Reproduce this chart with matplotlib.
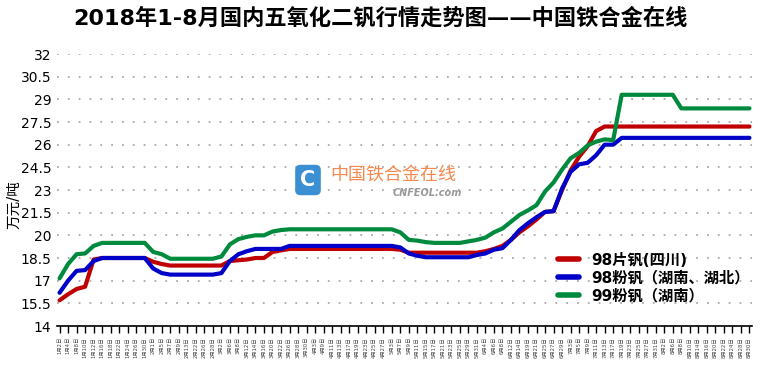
import matplotlib
matplotlib.use('Agg')
import numpy as np
import matplotlib.pyplot as plt

plt.rcParams['font.family'] = ['DejaVu Sans', 'Noto Sans CJK SC']

# 日期标签(每隔一个交易日)
dates = ['1月2日', '1月4日', '1月8日', '1月10日', '1月12日', '1月16日', '1月18日',
         '1月22日', '1月24日', '1月26日', '1月30日',
         '2月1日', '2月5日', '2月7日', '2月9日', '2月13日', '2月22日', '2月26日', '2月28日',
         '3月2日', '3月6日', '3月8日', '3月12日', '3月14日', '3月16日', '3月20日',
         '3月22日', '3月26日', '3月28日', '3月30日',
         '4月3日', '4月9日', '4月11日', '4月13日', '4月17日', '4月19日', '4月23日',
         '4月25日', '4月27日',
         '5月3日', '5月7日', '5月9日', '5月11日', '5月15日', '5月17日', '5月21日',
         '5月23日', '5月25日', '5月29日', '5月31日',
         '6月4日', '6月6日', '6月8日', '6月12日', '6月14日', '6月19日', '6月21日',
         '6月25日', '6月27日', '6月29日',
         '7月3日', '7月5日', '7月9日', '7月11日', '7月13日', '7月17日', '7月19日',
         '7月23日', '7月25日', '7月27日', '7月31日',
         '8月2日', '8月6日', '8月8日', '8月10日', '8月14日', '8月16日', '8月20日',
         '8月22日', '8月24日', '8月28日', '8月30日']

# 98片钒(四川)
red = [15.7, 16.1, 16.45, 16.6, 18.4, 18.5, 18.5, 18.5, 18.5, 18.5, 18.5,
       18.25, 18.1, 18.0, 18.0, 18.0, 18.0, 18.0, 18.0, 18.0,
       18.3, 18.35, 18.4, 18.5, 18.5, 18.9, 19.0, 19.1,
       19.1, 19.1, 19.1, 19.1, 19.1, 19.1, 19.1, 19.1, 19.1, 19.1, 19.1, 19.1,
       19.05, 18.85, 18.85, 18.85, 18.85, 18.85, 18.85, 18.85, 18.85, 18.85,
       18.95, 19.1, 19.3, 19.7, 20.2, 20.6, 21.05, 21.55, 21.6, 23.0,
       24.3, 25.2, 25.9, 26.9, 27.2,
       27.2, 27.2, 27.2, 27.2, 27.2, 27.2, 27.2, 27.2, 27.2, 27.2, 27.2,
       27.2, 27.2, 27.2, 27.2, 27.2, 27.2]

# 98粉钒(湖南、湖北)
blue = [16.2, 17.0, 17.65, 17.7, 18.3, 18.5, 18.5, 18.5, 18.5, 18.5, 18.5,
        17.8, 17.5, 17.4, 17.4, 17.4, 17.4, 17.4, 17.4, 17.5,
        18.3, 18.75, 18.95, 19.1, 19.1, 19.1, 19.1, 19.3,
        19.3, 19.3, 19.3, 19.3, 19.3, 19.3, 19.3, 19.3, 19.3, 19.3, 19.3, 19.3,
        19.2, 18.8, 18.65, 18.55, 18.55, 18.55, 18.55, 18.55, 18.55, 18.7,
        18.8, 19.05, 19.15, 19.7, 20.35, 20.8, 21.2, 21.55, 21.6, 23.1,
        24.2, 24.7, 24.8, 25.3, 26.0, 26.0, 26.45,
        26.45, 26.45, 26.45, 26.45, 26.45, 26.45, 26.45, 26.45, 26.45, 26.45,
        26.45, 26.45, 26.45, 26.45, 26.45]

# 99粉钒(湖南)
green = [17.15, 18.1, 18.75, 18.8, 19.3, 19.5, 19.5, 19.5, 19.5, 19.5, 19.5,
         18.9, 18.75, 18.45, 18.45, 18.45, 18.45, 18.45, 18.45, 18.6,
         19.4, 19.75, 19.9, 20.0, 20.0, 20.25, 20.35, 20.4,
         20.4, 20.4, 20.4, 20.4, 20.4, 20.4, 20.4, 20.4, 20.4, 20.4, 20.4, 20.4,
         20.2, 19.7, 19.65, 19.55, 19.5, 19.5, 19.5, 19.5, 19.6, 19.7,
         19.85, 20.2, 20.45, 20.9, 21.35, 21.65, 22.0, 22.9, 23.5, 24.35,
         25.1, 25.45, 25.95, 26.2, 26.35, 26.3, 29.3,
         29.3, 29.3, 29.3, 29.3, 29.3, 29.3, 28.4,
         28.4, 28.4, 28.4, 28.4, 28.4, 28.4, 28.4, 28.4]

series = ['98片钒(四川)', '98粉钒（湖南、湖北）', '99粉钒（湖南）']
colors = ['#c00000', '#0000c8', '#008a3e']
yticks = [14, 15.5, 17, 18.5, 20, 21.5, 23, 24.5, 26, 27.5, 29, 30.5, 32]

fig = plt.figure(figsize=(7.6, 3.66), dpi=100)
ax = fig.add_axes([57 / 760, 1 - 326 / 366, 695 / 760, 272 / 366])

x = np.arange(len(dates))
for vals, col, lab in zip([red, blue, green], colors, series):
    ax.plot(x, vals, color=col, lw=3, label=lab, solid_capstyle='round',
            solid_joinstyle='round')

ax.set_ylim(14, 32)
ax.set_xlim(-0.3, len(dates) - 0.7)
ax.set_yticks(yticks)
ax.set_yticklabels([f'{v:g}' for v in yticks], fontsize=10)
ax.tick_params(axis='y', length=0, pad=4)
ax.set_xticks(x)
ax.set_xticklabels(dates, rotation=90, fontsize=3.8, color='#444444')
ax.tick_params(axis='x', length=5, width=1, direction='out', pad=3)
ax.yaxis.grid(True, color='#aaaaaa', linestyle=(0, (1, 5)), lw=1.3)
ax.set_axisbelow(True)
for s in ['top', 'right', 'left']:
    ax.spines[s].set_visible(False)
ax.spines['bottom'].set_linewidth(1.2)

# 纵轴单位
fig.text(14 / 760, 1 - 205 / 366, '万元/吨', rotation=90, ha='center',
         va='center', fontsize=10.5)

fig.text(0.5, 1 - 18 / 366, '2018年1-8月国内五氧化二钒行情走势图——中国铁合金在线',
         ha='center', va='center', fontsize=16, fontweight='bold')

# 水印
fig.text(308 / 760, 1 - 180 / 366, 'C', ha='center', va='center', fontsize=15,
         fontweight='bold', color='white',
         bbox=dict(boxstyle='round,pad=0.25', fc='#3b8fd3', ec='none'))
fig.text(330 / 760, 1 - 175 / 366, '中国铁合金在线', ha='left', va='center',
         fontsize=13, color='#f58a50', family=['Noto Sans CJK SC'])
fig.text(462 / 760, 1 - 193 / 366, 'CNFEOL.com', ha='right', va='center',
         fontsize=7, color='#999999', style='italic', fontweight='bold')

leg = ax.legend(loc='upper left', bbox_to_anchor=(550 / 760, 1 - 245 / 366),
                bbox_transform=fig.transFigure, frameon=False, fontsize=11,
                handlelength=1.4, handletextpad=0.8, labelspacing=0.2,
                borderpad=0)
for t in leg.get_texts():
    t.set_fontweight('bold')
for h in leg.get_lines():
    h.set_linewidth(4)

fig.savefig('out.png', dpi=100)
